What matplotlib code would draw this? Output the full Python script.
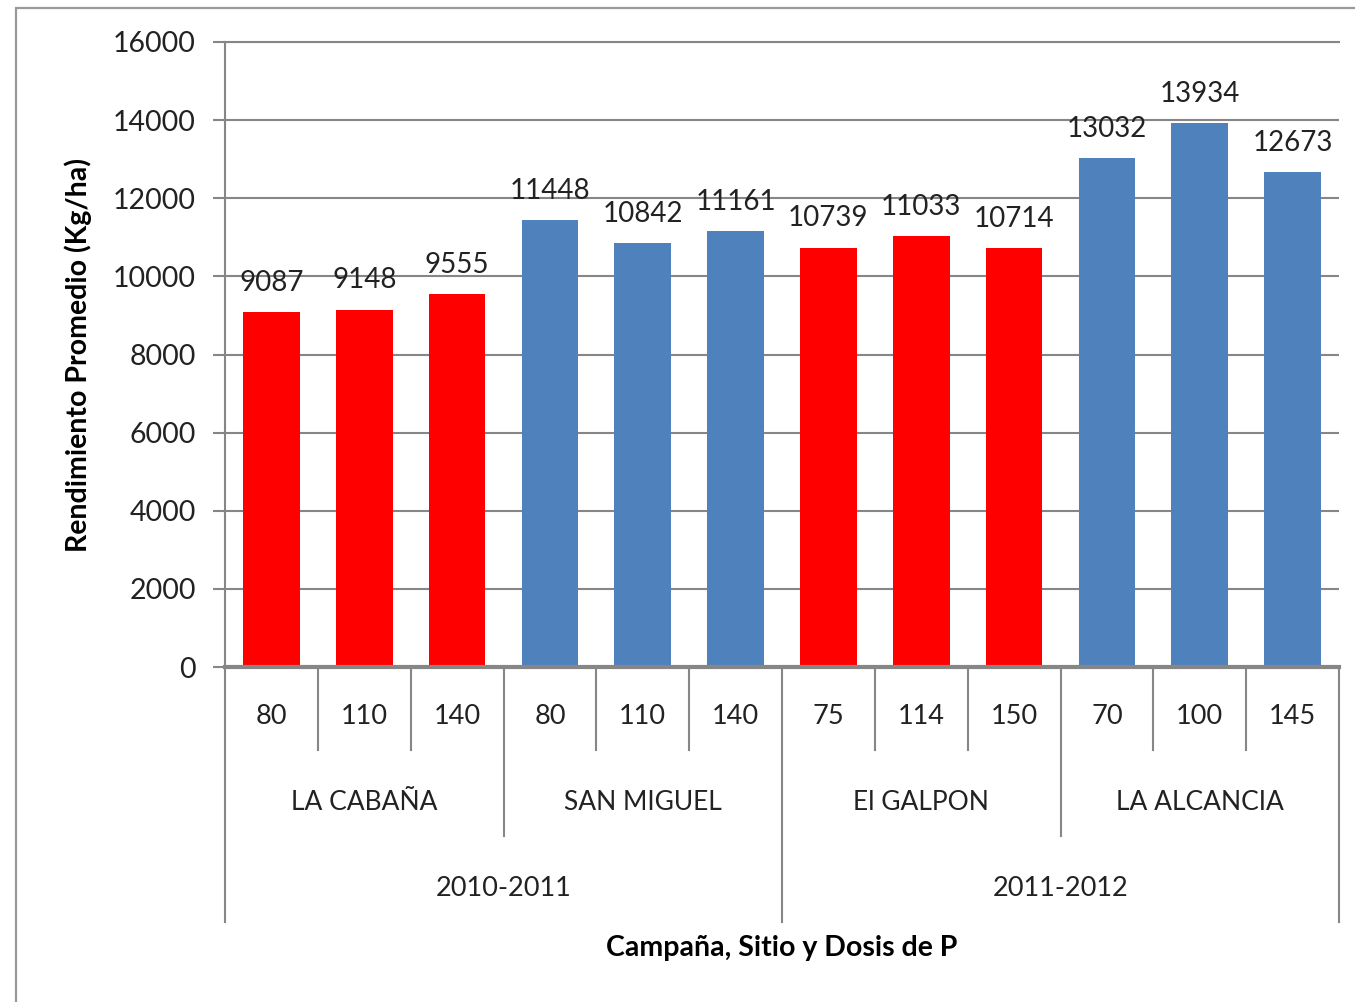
#Rendimiento promedio por campaña, sitio y dosis de P
import matplotlib
matplotlib.use("Agg")
import matplotlib.pyplot as plt
from matplotlib.patches import Rectangle

plt.rcParams['font.family'] = ['Lato', 'DejaVu Sans']

#Datos
dosis = ['80', '110', '140', '80', '110', '140', '75', '114', '150', '70', '100', '145']
sitios = ['LA CABAÑA', 'SAN MIGUEL', 'El GALPON', 'LA ALCANCIA']
campanas = ['2010-2011', '2011-2012']
rendimiento = [9087, 9148, 9555, 11448, 10842, 11161, 10739, 11033, 10714, 13032, 13934, 12673]
sitio_colores = ['#FF0000', '#4F81BD', '#FF0000', '#4F81BD']

grid_col = '#868686'
txt_col = '#222222'

fig = plt.figure(figsize=(13.55, 10.02), dpi=100)
ax = fig.add_axes([225/1355, 1-667/1002, (1339-225)/1355, 625/1002])

#outer frame
fig.patches.append(Rectangle((16/1355, -0.1), 1.2, 1-8/1002+0.1, transform=fig.transFigure,
                             fill=False, edgecolor='#999999', linewidth=1.6))

x = list(range(len(dosis)))
colores = [sitio_colores[i // 3] for i in x]
ax.bar(x, rendimiento, width=0.61, color=colores, zorder=3)

for xi, v in zip(x, rendimiento):
    ax.annotate(str(v), (xi, v), xytext=(0, 21), textcoords='offset points',
                ha='center', va='center', fontsize=20, color=txt_col)

ax.set_xlim(-0.5, len(dosis) - 0.5)
ax.set_ylim(0, 16000)
ax.set_yticks(range(0, 16001, 2000))
ax.tick_params(axis='y', length=9, width=1.5, color=grid_col, labelsize=20.5,
               labelcolor=txt_col, pad=12)
ax.set_xticks([])
ax.yaxis.grid(True, color=grid_col, linewidth=1.5, zorder=0)
ax.spines['right'].set_visible(False)
ax.spines['top'].set_color(grid_col)
ax.spines['top'].set_linewidth(1.5)
ax.spines['left'].set_color(grid_col)
ax.spines['left'].set_linewidth(1.5)
ax.spines['bottom'].set_color(grid_col)
ax.spines['bottom'].set_linewidth(3)
ax.spines['bottom'].set_zorder(4)

#multi level category axis
tr = ax.get_xaxis_transform()
y_dose, y_site, y_year = -0.1328, -0.2704, -0.408
for b in range(len(dosis) + 1):
    xb = b - 0.5
    if b % 6 == 0:
        yb = y_year
    elif b % 3 == 0:
        yb = y_site
    else:
        yb = y_dose
    ax.plot([xb, xb], [0, yb], transform=tr, color=grid_col, linewidth=1.5, clip_on=False)

for xi, d in zip(x, dosis):
    ax.text(xi, -0.08, d, transform=tr, ha='center', va='center', fontsize=19.5, color=txt_col)
for i, s in enumerate(sitios):
    ax.text(i*3 + 1, -0.216, s, transform=tr, ha='center', va='center', fontsize=19, color=txt_col)
for i, c in enumerate(campanas):
    ax.text(i*6 + 2.5, -0.3536, c, transform=tr, ha='center', va='center', fontsize=19.5, color=txt_col)

ax.text(5.5, -0.4496, 'Campaña, Sitio y Dosis de P', transform=tr, ha='center', va='center',
        fontsize=20.5, fontweight='bold', color='black')
fig.text(78/1355, 1-355/1002, 'Rendimiento Promedio (Kg/ha)', rotation=90, ha='center',
         va='center', fontsize=20.5, fontweight='bold', color='black')

fig.savefig('out.png', dpi=100)
